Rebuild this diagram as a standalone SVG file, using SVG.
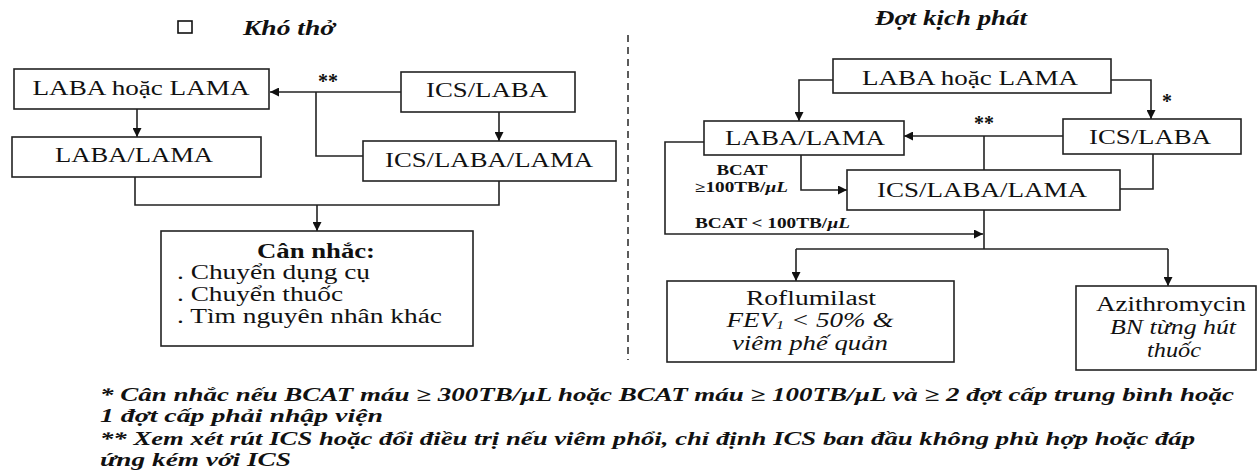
<svg xmlns="http://www.w3.org/2000/svg" width="1259" height="472" viewBox="0 0 1259 472">
<style>
.box{fill:#fff;stroke:#222;stroke-width:1.6}
.ln{fill:none;stroke:#222;stroke-width:1.6}
text{font-family:"Liberation Serif","Times New Roman",serif;fill:#111}
.t{font-size:20px}
.c{text-anchor:middle}
.b{font-weight:bold}
.i{font-style:italic}
.s{font-size:14px}
.fn{font-size:19px;font-weight:bold;font-style:italic}
</style>
<defs>
<marker id="ah" viewBox="0 0 10 10" refX="10" refY="5" markerWidth="9" markerHeight="9" orient="auto" markerUnits="userSpaceOnUse"><path d="M0,0 L10,5 L0,10 z" fill="#111"/></marker>
</defs>

<rect x="178" y="21" width="14" height="12" fill="none" stroke="#111" stroke-width="1.6"/>
<text class="t b i" x="243" y="35" textLength="92" lengthAdjust="spacingAndGlyphs">Khó thở</text>
<text class="t b i" x="875" y="25" textLength="152" lengthAdjust="spacingAndGlyphs">Đợt kịch phát</text>
<line x1="628" y1="35" x2="628" y2="360" stroke="#333" stroke-width="1.6" stroke-dasharray="7 5"/>

<g id="connectors">
<path class="ln" d="M401,92 H270" marker-end="url(#ah)"/>
<path class="ln" d="M316,92 V156 H363"/>
<path class="ln" d="M499,112 V141" marker-end="url(#ah)"/>
<path class="ln" d="M137,109 V137" marker-end="url(#ah)"/>
<path class="ln" d="M135,177 V205 H499 V181"/>
<path class="ln" d="M317,205 V231" marker-end="url(#ah)"/>
<path class="ln" d="M833,80 H799 V121" marker-end="url(#ah)"/>
<path class="ln" d="M1111,80 H1151 V119" marker-end="url(#ah)"/>
<path class="ln" d="M1063,136 H904" marker-end="url(#ah)"/>
<path class="ln" d="M984,136 V170"/>
<path class="ln" d="M1153,154 V189 H1120"/>
<path class="ln" d="M801,155 V190 H847" marker-end="url(#ah)"/>
<path class="ln" d="M704,142 H665 V234 H983" marker-end="url(#ah)"/>
<path class="ln" d="M984,210 V249"/>
<path class="ln" d="M796,249 H1168"/>
<path class="ln" d="M796,249 V281" marker-end="url(#ah)"/>
<path class="ln" d="M1168,249 V286" marker-end="url(#ah)"/>
<text class="t b" x="328" y="88" text-anchor="middle" font-size="18">**</text>
<text class="t b" x="984" y="130" text-anchor="middle" font-size="18">**</text>
<text class="t b" x="1167" y="108" text-anchor="middle" font-size="18">*</text>
<text class="t b s" x="742" y="175" text-anchor="middle" textLength="51" lengthAdjust="spacingAndGlyphs">BCAT</text>
<text class="t b s" x="695" y="192" textLength="93" lengthAdjust="spacingAndGlyphs">≥100TB/<tspan class="i">µL</tspan></text>
<text class="t b s" x="695" y="228" textLength="155" lengthAdjust="spacingAndGlyphs">BCAT &lt; 100TB/<tspan class="i">µL</tspan></text>
</g>

<g id="n-left-laba-or-lama">
<rect class="box" x="14" y="69" width="255" height="40"/>
<text class="t c" x="141" y="95" textLength="217" lengthAdjust="spacingAndGlyphs">LABA hoặc LAMA</text>
</g>
<g id="n-left-laba-lama">
<rect class="box" x="12" y="137" width="249" height="40"/>
<text class="t c" x="134" y="162" textLength="158" lengthAdjust="spacingAndGlyphs">LABA/LAMA</text>
</g>
<g id="n-left-ics-laba">
<rect class="box" x="401" y="72" width="174" height="40"/>
<text class="t c" x="487" y="97" textLength="122" lengthAdjust="spacingAndGlyphs">ICS/LABA</text>
</g>
<g id="n-left-ics-laba-lama">
<rect class="box" x="363" y="141" width="253" height="40"/>
<text class="t c" x="489" y="167" textLength="208" lengthAdjust="spacingAndGlyphs">ICS/LABA/LAMA</text>
</g>
<g id="n-can-nhac">
<rect class="box" x="161" y="231" width="312" height="115"/>
<text class="t c b" x="316" y="258" textLength="118" lengthAdjust="spacingAndGlyphs">Cân nhắc:</text>
<text class="t" x="177" y="279" textLength="193" lengthAdjust="spacingAndGlyphs">. Chuyển dụng cụ</text>
<text class="t" x="177" y="301" textLength="166" lengthAdjust="spacingAndGlyphs">. Chuyển thuốc</text>
<text class="t" x="177" y="323" textLength="265" lengthAdjust="spacingAndGlyphs">. Tìm nguyên nhân khác</text>
</g>

<g id="n-right-laba-or-lama">
<rect class="box" x="833" y="59" width="278" height="34"/>
<text class="t c" x="970" y="85" textLength="216" lengthAdjust="spacingAndGlyphs">LABA hoặc LAMA</text>
</g>
<g id="n-right-laba-lama">
<rect class="box" x="704" y="121" width="200" height="34"/>
<text class="t c" x="805" y="145" textLength="160" lengthAdjust="spacingAndGlyphs">LABA/LAMA</text>
</g>
<g id="n-right-ics-laba">
<rect class="box" x="1063" y="119" width="178" height="35"/>
<text class="t c" x="1150" y="144" textLength="122" lengthAdjust="spacingAndGlyphs">ICS/LABA</text>
</g>
<g id="n-right-ics-laba-lama">
<rect class="box" x="847" y="170" width="273" height="40"/>
<text class="t c" x="982" y="197" textLength="210" lengthAdjust="spacingAndGlyphs">ICS/LABA/LAMA</text>
</g>
<g id="n-roflumilast">
<rect class="box" x="667" y="281" width="287" height="81"/>
<text class="t c" x="811" y="305" textLength="130" lengthAdjust="spacingAndGlyphs">Roflumilast</text>
<text class="t c i" x="810" y="327" textLength="167" lengthAdjust="spacingAndGlyphs">FEV<tspan font-size="12" dy="2">1</tspan><tspan dy="-2"> &lt; 50% &amp;</tspan></text>
<text class="t c i" x="810" y="350" textLength="156" lengthAdjust="spacingAndGlyphs">viêm phế quản</text>
</g>
<g id="n-azithromycin">
<rect class="box" x="1076" y="286" width="180" height="84"/>
<text class="t c" x="1171" y="311" textLength="150" lengthAdjust="spacingAndGlyphs">Azithromycin</text>
<text class="t c i" x="1173" y="334" textLength="126" lengthAdjust="spacingAndGlyphs">BN từng hút</text>
<text class="t c i" x="1174" y="357" textLength="54" lengthAdjust="spacingAndGlyphs">thuốc</text>
</g>

<g id="footnotes">
<text class="fn" x="100" y="401" textLength="1134" lengthAdjust="spacingAndGlyphs">* Cân nhắc nếu BCAT máu ≥ 300TB/µL hoặc BCAT máu ≥ 100TB/µL và ≥ 2 đợt cấp trung bình hoặc</text>
<text class="fn" x="100" y="422" textLength="283" lengthAdjust="spacingAndGlyphs">1 đợt cấp phải nhập viện</text>
<text class="fn" x="100" y="445" textLength="1095" lengthAdjust="spacingAndGlyphs">** Xem xét rút ICS hoặc đổi điều trị nếu viêm phổi, chỉ định ICS ban đầu không phù hợp hoặc đáp</text>
<text class="fn" x="100" y="466" textLength="191" lengthAdjust="spacingAndGlyphs">ứng kém với ICS</text>
</g>
</svg>
